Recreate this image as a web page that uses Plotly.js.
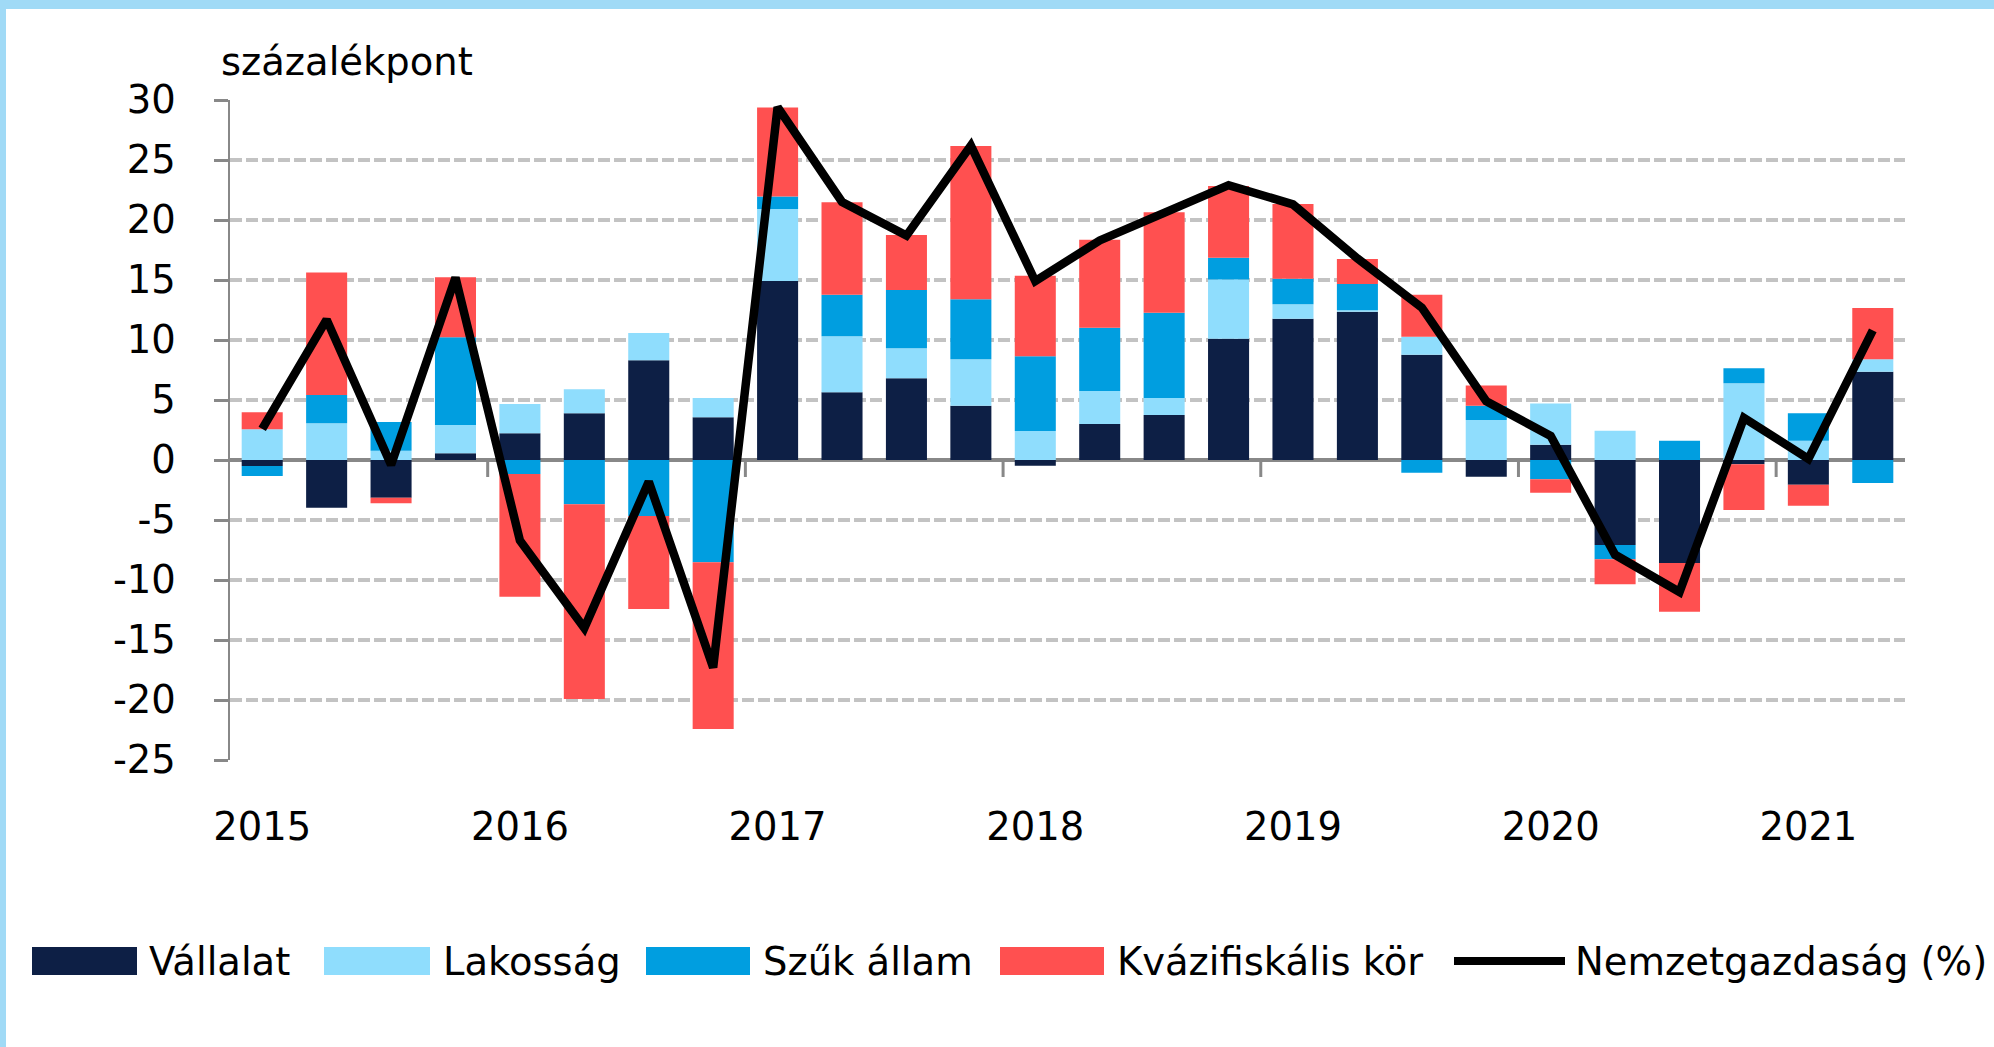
<!DOCTYPE html>
<html>
<head>
<meta charset="utf-8">
<script src="https://cdn.plot.ly/plotly-3.0.1.min.js"></script>
<style>
html,body{margin:0;padding:0;background:#ffffff;}
#chart{width:1994px;height:1047px;}
</style>
</head>
<body>
<div id="chart"></div>
<script>
// ---------- DATA ----------
const quarters = [
  "2015 Q1","2015 Q2","2015 Q3","2015 Q4",
  "2016 Q1","2016 Q2","2016 Q3","2016 Q4",
  "2017 Q1","2017 Q2","2017 Q3","2017 Q4",
  "2018 Q1","2018 Q2","2018 Q3","2018 Q4",
  "2019 Q1","2019 Q2","2019 Q3","2019 Q4",
  "2020 Q1","2020 Q2","2020 Q3","2020 Q4",
  "2021 Q1","2021 Q2"
];
const yearTickCategories = ["2015 Q1","2016 Q1","2017 Q1","2018 Q1","2019 Q1","2020 Q1","2021 Q1"];
const yearTickLabels = ["2015","2016","2017","2018","2019","2020","2021"];
const yTickValues = [-25, -20, -15, -10, -5, 0, 5, 10, 15, 20, 25, 30];

const vallalat = [-0.5, -3.97, -3.14, 0.56, 2.22, 3.89, 8.31, 3.56, 14.92, 5.64, 6.81, 4.53, -0.47, 3.0, 3.75, 10.11, 11.78, 12.36, 8.78, -1.39, 1.28, -7.08, -8.58, -0.36, -2.06, 7.36];
const lakossag = [2.56, 3.06, 0.78, 2.36, 2.45, 2.0, 2.28, 1.61, 6.0, 4.67, 2.5, 3.86, 2.42, 2.75, 1.42, 4.94, 1.19, 0.11, 1.5, 3.33, 3.42, 2.44, 0, 6.39, 1.61, 1.03];
const szukAllam = [-0.83, 2.36, 2.39, 7.3, -1.17, -3.69, -4.67, -8.53, 1.03, 3.47, 4.86, 5.0, 6.22, 5.28, 7.11, 1.81, 2.14, 2.19, -1.06, 1.19, -1.61, -1.19, 1.61, 1.25, 2.28, -1.92];
const kvazifiskalis = [1.41, 10.2, -0.47, 5.0, -10.22, -16.22, -7.75, -13.89, 7.42, 7.69, 4.58, 12.78, 6.72, 7.33, 8.36, 5.97, 6.22, 2.08, 3.5, 1.69, -1.11, -2.08, -4.06, -3.81, -1.75, 4.28];
const nemzetgazdasag = [2.6, 11.7, -0.4, 15.2, -6.7, -14.0, -1.8, -17.3, 29.4, 21.5, 18.7, 26.2, 14.9, 18.3, 20.6, 22.9, 21.3, 16.8, 12.7, 4.9, 2.0, -7.9, -11.0, 3.5, 0.1, 10.8];

const seriesNames = ["Vállalat", "Lakosság", "Szűk állam", "Kvázifiskális kör", "Nemzetgazdaság (%)"];
const seriesColors = ["#0D1F45", "#8FDDFD", "#009EE0", "#FF5050", "#000000"];
const yUnitLabel = "százalékpont";

// ---------- LAYOUT GEOMETRY ----------
const W = 1994, H = 1047;
const L = 230, R = 1905, T = 100, B = 760;
const PW = R - L, PH = B - T;
const FONT = "'DejaVu Sans', sans-serif";
const FS = 38.5;
const px2x = p => (p - L) / PW;
const py2y = p => (B - p) / PH;

const barSeries = [vallalat, lakossag, szukAllam, kvazifiskalis];
const traces = barSeries.map((vals, i) => ({
  type: "bar",
  name: seriesNames[i],
  x: quarters,
  y: vals,
  marker: {color: seriesColors[i], line: {width: 0}},
  showlegend: false,
  hoverinfo: "x+y+name"
}));
traces.push({
  type: "scatter",
  mode: "lines",
  name: seriesNames[4],
  x: quarters,
  y: nemzetgazdasag,
  line: {color: seriesColors[4], width: 8.5},
  showlegend: false
});

// year boundary tick marks on the zero line
const shapes = [];
quarters.forEach((q, i) => {
  if (i > 0 && q.endsWith("Q1")) {
    shapes.push({
      type: "line", xref: "x", yref: "y",
      x0: i - 0.5, x1: i - 0.5,
      ysizemode: "pixel", yanchor: 0, y0: 0, y1: -17,
      line: {color: "#888888", width: 3}
    });
  }
});
// light blue frame (top and left)
shapes.push({type: "rect", xref: "paper", yref: "paper", layer: "below",
  x0: px2x(0), x1: px2x(W), y0: py2y(9), y1: py2y(0),
  fillcolor: "#A0DAF6", line: {width: 0}});
shapes.push({type: "rect", xref: "paper", yref: "paper", layer: "below",
  x0: px2x(0), x1: px2x(6), y0: py2y(H), y1: py2y(0),
  fillcolor: "#A0DAF6", line: {width: 0}});

// unit label and manual legend
const annotations = [{
  text: yUnitLabel, xref: "paper", yref: "paper",
  x: px2x(219), y: py2y(62), xanchor: "left", yanchor: "middle",
  showarrow: false, font: {family: FONT, size: FS, color: "#000"}
}];
const legendSwatchX = [32, 324, 646, 1000, 1454];
const legendSwatchW = [105, 106, 104, 104, 111];
const legendTextX = [147, 441, 761, 1115, 1573];
const legendY = 961;
seriesNames.forEach((name, i) => {
  if (i < 4) {
    shapes.push({type: "rect", xref: "paper", yref: "paper",
      x0: px2x(legendSwatchX[i]), x1: px2x(legendSwatchX[i] + legendSwatchW[i]),
      y0: py2y(legendY + 14), y1: py2y(legendY - 14),
      fillcolor: seriesColors[i], line: {width: 0}});
  } else {
    shapes.push({type: "line", xref: "paper", yref: "paper",
      x0: px2x(legendSwatchX[i]), x1: px2x(legendSwatchX[i] + legendSwatchW[i]),
      y0: py2y(legendY), y1: py2y(legendY),
      line: {color: seriesColors[i], width: 8}});
  }
  annotations.push({
    text: name, xref: "paper", yref: "paper",
    x: px2x(legendTextX[i]), y: py2y(legendY), xanchor: "left", yanchor: "middle",
    showarrow: false, font: {family: FONT, size: FS, color: "#000"}
  });
});

const layout = {
  width: W, height: H,
  margin: {l: L, r: W - R, t: T, b: H - B, pad: 0},
  paper_bgcolor: "#ffffff",
  plot_bgcolor: "rgba(0,0,0,0)",
  barmode: "relative",
  bargap: 0.363,
  showlegend: false,
  font: {family: FONT, size: FS, color: "#000"},
  xaxis: {
    type: "category",
    range: [-0.5, quarters.length - 0.5],
    tickmode: "array",
    tickvals: yearTickCategories,
    ticktext: yearTickLabels,
    ticks: "",
    showgrid: false,
    showline: false,
    zeroline: false,
    ticklabelstandoff: 40,
    tickfont: {family: FONT, size: FS, color: "#000"}
  },
  yaxis: {
    range: [-25, 30],
    tickmode: "array",
    tickvals: yTickValues,
    ticktext: yTickValues.map(v => String(v)),
    showgrid: true,
    gridcolor: "#C3C3C3",
    gridwidth: 3.2,
    griddash: "11.5px,4.5px",
    zeroline: true,
    zerolinecolor: "#888888",
    zerolinewidth: 3.5,
    showline: true,
    linecolor: "#888888",
    linewidth: 2.5,
    ticks: "outside",
    ticklen: 14,
    tickwidth: 3,
    tickcolor: "#888888",
    ticklabelstandoff: 30,
    tickfont: {family: FONT, size: FS, color: "#000"}
  },
  shapes: shapes,
  annotations: annotations
};

Plotly.newPlot("chart", traces, layout, {displayModeBar: false, staticPlot: true});
</script>
</body>
</html>
